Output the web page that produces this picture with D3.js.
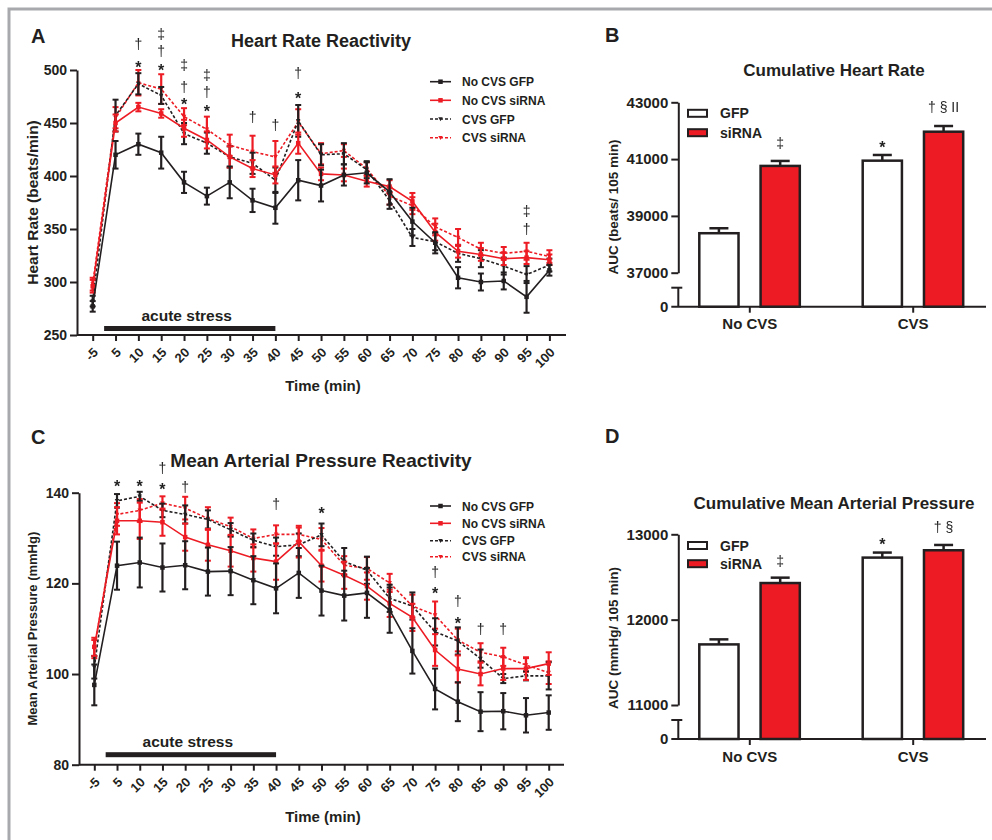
<!DOCTYPE html>
<html>
<head>
<meta charset="utf-8">
<script src="https://cdn.jsdelivr.net/npm/d3@7"></script>
<style>
  body { margin: 0; background: #fff; }
  svg text { font-family: "Liberation Sans", Arial, sans-serif; fill: #231f20; }
</style>
</head>
<body>
<svg id="fig" width="992" height="840"></svg>
<script>
// ---- data ----
const timeLabels = ["-5", "5", "10", "15", "20", "25", "30", "35", "40", "45", "50",
  "55", "60", "65", "70", "75", "80", "85", "90", "95", "100"];
const seriesNames = ["No CVS GFP", "No CVS siRNA", "CVS GFP", "CVS siRNA"];

// heart rate (beats/min), mean and SEM
const hrNoCvsGfp = [277, 420, 430, 422, 394, 381, 394, 377, 370, 396, 391, 401, 403, 385, 357, 337, 304, 300, 301, 286, 311];
const hrNoCvsGfpErr = [5, 13, 10, 15, 10, 8, 15, 11, 15, 19, 15, 10, 10, 12, 13, 10, 10, 8, 8, 15, 5];
const hrNoCvsSirna = [296, 450, 465, 459, 445, 434, 418, 407, 401, 431, 402, 401, 395, 390, 376, 347, 329, 326, 322, 323, 321];
const hrNoCvsSirnaErr = [6, 8, 4, 4, 8, 8, 10, 8, 8, 10, 6, 6, 5, 6, 8, 8, 6, 6, 6, 6, 5];
const hrCvsGfp = [282, 457, 487, 476, 440, 431, 418, 412, 396, 452, 420, 421, 406, 377, 342, 338, 327, 322, 315, 307, 316];
const hrCvsGfpErr = [5, 15, 10, 8, 10, 10, 10, 10, 12, 15, 10, 10, 8, 8, 8, 8, 8, 8, 8, 8, 6];
const hrCvsSirna = [298, 455, 488, 482, 456, 444, 429, 423, 418, 451, 421, 424, 407, 381, 372, 352, 342, 331, 327, 329, 324];
const hrCvsSirnaErr = [6, 10, 12, 14, 8, 12, 10, 15, 15, 12, 10, 6, 6, 8, 8, 8, 8, 6, 6, 8, 6];
const hrTicks = [250, 300, 350, 400, 450, 500];
// [time, symbol, height in beats/min]
const hrSig = [["10", "*", 505.7], ["10", "†", 523.6], ["15", "*", 503], ["15", "†", 517], ["15", "‡", 533],
  ["20", "*", 470.8], ["20", "†", 483], ["20", "‡", 503.8], ["25", "*", 464], ["25", "†", 478.3], ["25", "‡", 494.3],
  ["35", "†", 454.7], ["40", "†", 447], ["45", "*", 476.4], ["45", "†", 496], ["95", "†", 349], ["95", "‡", 366]];

// mean arterial pressure (mmHg)
const mapNoCvsGfp = [97.6, 123.9, 124.6, 123.5, 124, 122.6, 122.7, 120.7, 118.9, 122.3, 118.4, 117.3, 117.9, 114.1, 105.1, 96.7, 93.9, 91.7, 91.8, 90.9, 91.5];
const mapNoCvsGfpErr = [4.5, 5.3, 5.5, 5.3, 5.3, 5.3, 5.3, 5.3, 5.5, 5.5, 5.5, 5.5, 5.5, 5, 5, 4.5, 4.3, 4.3, 4, 3.8, 3.8];
const mapNoCvsSirna = [106, 133.8, 133.8, 133.5, 130.2, 128.5, 127.2, 125.6, 124.8, 129.2, 123.9, 121.8, 119.4, 115.6, 112.5, 105.3, 101.1, 100, 101.2, 101.2, 102.3];
const mapNoCvsSirnaErr = [2, 3, 4, 3, 3, 3.5, 3.5, 3, 4, 3.5, 3.5, 3, 3, 3, 3, 3.5, 3, 2.5, 2.5, 2.5, 2.5];
const mapCvsGfp = [101.5, 138.2, 139.2, 136.1, 135.2, 134.1, 131.8, 129.5, 128.1, 128.5, 130.7, 124.8, 122.9, 116.7, 115, 109.3, 107.3, 103.4, 99, 99.6, 99.6];
const mapCvsGfpErr = [2.5, 1.5, 1, 1.5, 2, 2, 1.5, 1.5, 2, 2.5, 2.5, 3, 3, 3, 3, 3, 3, 2, 1, 1, 3];
const mapCvsSirna = [105.5, 135.2, 136.1, 137.7, 136.6, 134.3, 132.5, 129.9, 130.8, 130.8, 129.7, 124, 123.3, 120.1, 115, 113, 107.5, 104.8, 103.8, 102, 100.3];
const mapCvsSirnaErr = [2, 2.5, 2.5, 1.5, 2.5, 2.5, 2, 2, 2, 1.5, 2.5, 2, 2.5, 2, 2.5, 3, 2.5, 2, 2, 1.5, 2.5];
const mapTicks = [80, 100, 120, 140];
const mapSig = [["5", "*", 142.1], ["10", "*", 142.1], ["15", "*", 141.5], ["15", "†", 145.2], ["20", "†", 141],
  ["40", "†", 137.3], ["50", "*", 136.2], ["75", "*", 118.5], ["75", "†", 122.3], ["80", "*", 112], ["80", "†", 116],
  ["85", "†", 109.7], ["90", "†", 109.7]];

// cumulative AUC bars
const aucGroups = ["No CVS", "CVS"];
const aucSeries = ["GFP", "siRNA"];
const hrAucGfp = [38390, 40945];
const hrAucGfpErr = [175, 200];
const hrAucSirna = [40760, 41965];
const hrAucSirnaErr = [175, 200];
const hrAucTicks = [37000, 39000, 41000, 43000];
// [group, series, symbol, height]
const hrAucSig = [["No CVS", "siRNA", "‡", 41532], ["CVS", "GFP", "*", 41532], ["CVS", "siRNA", "† § II", 42800]];
const mapAucGfp = [11710, 12727];
const mapAucGfpErr = [59, 59];
const mapAucSirna = [12429, 12813];
const mapAucSirnaErr = [63, 62];
const mapAucTicks = [11000, 12000, 13000];
const mapAucSig = [["No CVS", "siRNA", "‡", 12675], ["CVS", "GFP", "*", 12930], ["CVS", "siRNA", "† §", 13082]];

// ---- drawing ----
const INK = "#231f20";
const RED = "#ed1c24";
const seriesStyle = [
  { color: INK, dash: null, marker: "square" },
  { color: RED, dash: null, marker: "square" },
  { color: INK, dash: "3,2", marker: "tri" },
  { color: RED, dash: "3,2", marker: "tri" },
];

const svg = d3.select("#fig");

// desaturating filter so the thin symbol glyphs stay grey
svg.append("defs").append("filter")
  .attr("id", "grey").attr("x", "-50%").attr("y", "-50%").attr("width", "200%").attr("height", "200%")
  .append("feColorMatrix").attr("type", "saturate").attr("values", 0);

// grey frame of the figure
svg.append("rect")
  .attr("x", 9).attr("y", 9).attr("width", 1000).attr("height", 850)
  .attr("fill", "none").attr("stroke", "#a7a9ac").attr("stroke-width", 3);

function styleAxis(sel, fontSize) {
  sel.selectAll("path, line").attr("stroke", INK).attr("stroke-width", 2);
  sel.selectAll("text")
    .attr("font-size", fontSize).attr("font-weight", "bold")
    .attr("fill", INK).attr("font-family", '"Liberation Sans", Arial, sans-serif');
}

function marker(sel, kind, color, size) {
  if (kind === "square") {
    sel.append("rect").attr("x", -size / 2).attr("y", -size / 2)
      .attr("width", size).attr("height", size).attr("fill", color);
  } else {
    sel.append("path")
      .attr("d", `M${-size / 2},${-size / 2.5}L${size / 2},${-size / 2.5}L0,${size / 2}Z`)
      .attr("fill", color);
  }
}

// significance symbol: y is the visual centre of the glyph
function sigSymbol(g, x, y, sym) {
  const star = sym === "*";
  const size = star ? 16 : 14;
  const col = star ? INK : "#3a3a3c";
  g.append("text")
    .attr("x", x).attr("y", y + size * (star ? 0.58 : 0.3))
    .attr("text-anchor", "middle")
    .attr("font-size", size)
    .attr("font-weight", star ? "bold" : "normal")
    .attr("fill", col)
    .text(sym);
}

function linePanel(p) {
  const g = svg.append("g");
  const x = d3.scalePoint().domain(timeLabels).range(p.xRange);
  const y = d3.scaleLinear().domain(p.yDomain).range(p.yRange);
  const y0 = p.yRange[0];

  g.append("g")
    .attr("transform", `translate(${p.axisX},0)`)
    .call(d3.axisLeft(y).tickValues(p.yTicks).tickSize(7).tickSizeOuter(0).tickPadding(3))
    .call(styleAxis, 14);

  const xa = g.append("g")
    .attr("transform", `translate(0,${y0})`)
    .call(d3.axisBottom(x).tickSize(6).tickFormat(""));
  xa.select(".domain").remove();
  xa.call(styleAxis, 13);
  g.append("line")
    .attr("x1", p.axisX).attr("x2", p.axisEnd).attr("y1", y0).attr("y2", y0)
    .attr("stroke", INK).attr("stroke-width", 2);

  g.selectAll(".xlab").data(timeLabels).join("text")
    .attr("class", "xlab")
    .attr("transform", (d) => `translate(${x(d) + 3},${y0 + 15}) rotate(-45)`)
    .attr("text-anchor", "end").attr("dy", "0.35em")
    .attr("font-size", 13).attr("font-weight", "bold")
    .text((d) => d);

  // acute stress bar, from time 0 to 40 min
  const sx0 = (x("-5") + x("5")) / 2;
  g.append("rect")
    .attr("x", sx0).attr("y", y0 - p.stressGap - 5)
    .attr("width", x("40") - sx0).attr("height", 5).attr("fill", INK);
  g.append("text")
    .attr("x", (sx0 + x("40")) / 2 - 3).attr("y", y0 - p.stressGap - 10)
    .attr("text-anchor", "middle").attr("font-size", 15.5).attr("font-weight", "bold")
    .text("acute stress");

  g.append("text")
    .attr("x", 323).attr("y", p.timeY)
    .attr("text-anchor", "middle").attr("font-size", 15).attr("font-weight", "bold")
    .text("Time (min)");

  g.append("text")
    .attr("transform", `translate(${p.yLabelX},${(p.yRange[0] + p.yRange[1]) / 2}) rotate(-90)`)
    .attr("text-anchor", "middle").attr("font-size", p.yLabelSize).attr("font-weight", "bold")
    .text(p.yLabel);

  g.append("text")
    .attr("x", 321).attr("y", p.titleY)
    .attr("text-anchor", "middle").attr("font-size", p.titleSize).attr("font-weight", "bold")
    .text(p.title);

  g.append("text")
    .attr("x", 31).attr("y", p.letterY)
    .attr("font-size", 20).attr("font-weight", "bold")
    .text(p.letter);

  // series, drawn back to front
  const line = d3.line().x((d, i) => x(timeLabels[i])).y((d) => y(d));
  [3, 2, 1, 0].forEach((k) => {
    const s = p.series[k];
    const st = seriesStyle[k];
    const sg = g.append("g");
    sg.append("path")
      .attr("d", line(s.values))
      .attr("fill", "none").attr("stroke", st.color)
      .attr("stroke-width", 1.6)
      .attr("stroke-dasharray", st.dash);
    s.values.forEach((v, i) => {
      const cx = x(timeLabels[i]);
      const lo = y(v - s.err[i]);
      const hi = y(v + s.err[i]);
      sg.append("line").attr("x1", cx).attr("x2", cx).attr("y1", lo).attr("y2", hi)
        .attr("stroke", st.color).attr("stroke-width", 2.2);
      [lo, hi].forEach((yy) => {
        sg.append("line").attr("x1", cx - 3).attr("x2", cx + 3).attr("y1", yy).attr("y2", yy)
          .attr("stroke", st.color).attr("stroke-width", 2);
      });
      sg.append("g").attr("transform", `translate(${cx},${y(v)})`)
        .call(marker, st.marker, st.color, 4.5);
    });
  });

  const sigG = g.append("g").attr("filter", "url(#grey)");
  p.sig.forEach(([t, sym, v]) => sigSymbol(sigG, x(t), y(v), sym));

  // legend
  seriesNames.forEach((name, k) => {
    const st = seriesStyle[k];
    const ly = p.legendY[k];
    g.append("line").attr("x1", 430).attr("x2", 451).attr("y1", ly).attr("y2", ly)
      .attr("stroke", st.color).attr("stroke-width", 1.6).attr("stroke-dasharray", st.dash);
    g.append("g").attr("transform", `translate(440.5,${ly})`).call(marker, st.marker, st.color, 4.5);
    g.append("text").attr("x", 462).attr("y", ly + 4.5)
      .attr("font-size", 12).attr("font-weight", "bold").text(name);
  });
}

function barPanel(p) {
  const g = svg.append("g");
  const xg = d3.scalePoint().domain(aucGroups).range([749.3, 912.7]);
  const xs = d3.scaleBand().domain(aucSeries).range([-50, 50.5]).paddingInner(0.36);
  const y = d3.scaleLinear().domain(p.yDomain).range(p.yRange);
  const base = p.baseY;

  g.append("g")
    .attr("transform", `translate(${p.axisX},0)`)
    .call(d3.axisLeft(y).tickValues(p.yTicks).tickFormat(d3.format("d"))
      .tickSize(7).tickSizeOuter(0).tickPadding(3))
    .call(styleAxis, 15);
  // broken axis: short lower piece with the zero label
  g.append("line").attr("x1", p.axisX).attr("x2", p.axisX).attr("y1", p.capY).attr("y2", base)
    .attr("stroke", INK).attr("stroke-width", 2);
  g.append("line").attr("x1", p.axisX - 7).attr("x2", p.axisX + 4).attr("y1", p.capY).attr("y2", p.capY)
    .attr("stroke", INK).attr("stroke-width", 2);
  g.append("text").attr("x", p.axisX - 10).attr("y", base).attr("dy", "0.32em")
    .attr("text-anchor", "end").attr("font-size", 15).attr("font-weight", "bold").text("0");

  const xa = g.append("g")
    .attr("transform", `translate(0,${base})`)
    .call(d3.axisBottom(xg).tickSize(6).tickPadding(6));
  xa.select(".domain").remove();
  xa.call(styleAxis, 15);
  xa.selectAll("text").attr("dy", "0.71em");
  g.append("line").attr("x1", p.axisX - 7).attr("x2", 986).attr("y1", base).attr("y2", base)
    .attr("stroke", INK).attr("stroke-width", 2);

  const rows = [
    { s: "GFP", values: p.gfp, err: p.gfpErr, fill: "#fff" },
    { s: "siRNA", values: p.sirna, err: p.sirnaErr, fill: RED },
  ];
  rows.forEach((r) => {
    aucGroups.forEach((grp, i) => {
      const bx = xg(grp) + xs(r.s);
      const cx = bx + xs.bandwidth() / 2;
      const top = y(r.values[i]);
      const et = y(r.values[i] + r.err[i]);
      g.append("line").attr("x1", cx).attr("x2", cx).attr("y1", top).attr("y2", et)
        .attr("stroke", INK).attr("stroke-width", 2.5);
      g.append("line").attr("x1", cx - 9.5).attr("x2", cx + 9.5).attr("y1", et).attr("y2", et)
        .attr("stroke", INK).attr("stroke-width", 2.5);
      g.append("rect").attr("x", bx).attr("y", top)
        .attr("width", xs.bandwidth()).attr("height", base - top)
        .attr("fill", r.fill).attr("stroke", INK).attr("stroke-width", 2.5);
    });
  });

  const sigG = g.append("g").attr("filter", "url(#grey)");
  p.sig.forEach(([grp, s, sym, v]) =>
    sigSymbol(sigG, xg(grp) + xs(s) + xs.bandwidth() / 2, y(v), sym));

  // legend
  rows.forEach((r, k) => {
    const ly = p.legendY[k];
    g.append("rect").attr("x", 688).attr("y", ly - 3.5).attr("width", 19).attr("height", 7)
      .attr("fill", r.fill).attr("stroke", INK).attr("stroke-width", 2);
    g.append("text").attr("x", 720).attr("y", ly + 5)
      .attr("font-size", 14).attr("font-weight", "bold").text(r.s);
  });

  g.append("text")
    .attr("transform", `translate(618,${p.yLabelY}) rotate(-90)`)
    .attr("text-anchor", "middle").attr("font-size", 13.5).attr("font-weight", "bold")
    .text(p.yLabel);
  g.append("text")
    .attr("x", 834).attr("y", p.titleY)
    .attr("text-anchor", "middle").attr("font-size", 17).attr("font-weight", "bold")
    .text(p.title);
  g.append("text")
    .attr("x", 605).attr("y", p.letterY)
    .attr("font-size", 20).attr("font-weight", "bold")
    .text(p.letter);
}

linePanel({
  letter: "A", letterY: 43,
  title: "Heart Rate Reactivity", titleY: 47, titleSize: 18,
  xRange: [92.7, 549.4], axisX: 77, axisEnd: 566,
  yDomain: [250, 500], yRange: [335, 70], yTicks: hrTicks,
  yLabel: "Heart Rate (beats/min)", yLabelX: 38, yLabelSize: 15.5,
  stressGap: 4, timeY: 391,
  legendY: [81.7, 100.3, 119, 137.7],
  sig: hrSig,
  series: [
    { values: hrNoCvsGfp, err: hrNoCvsGfpErr },
    { values: hrNoCvsSirna, err: hrNoCvsSirnaErr },
    { values: hrCvsGfp, err: hrCvsGfpErr },
    { values: hrCvsSirna, err: hrCvsSirnaErr },
  ],
});

linePanel({
  letter: "C", letterY: 444,
  title: "Mean Arterial Pressure Reactivity", titleY: 467, titleSize: 19,
  xRange: [94.3, 548.7], axisX: 79, axisEnd: 564,
  yDomain: [80, 140], yRange: [764.7, 492.7], yTicks: mapTicks,
  yLabel: "Mean Arterial Pressure (mmHg)", yLabelX: 37, yLabelSize: 13,
  stressGap: 7.5, timeY: 822,
  legendY: [506, 523.3, 540.7, 556.7],
  sig: mapSig,
  series: [
    { values: mapNoCvsGfp, err: mapNoCvsGfpErr },
    { values: mapNoCvsSirna, err: mapNoCvsSirnaErr },
    { values: mapCvsGfp, err: mapCvsGfpErr },
    { values: mapCvsSirna, err: mapCvsSirnaErr },
  ],
});

barPanel({
  letter: "B", letterY: 42,
  title: "Cumulative Heart Rate", titleY: 76,
  yDomain: [37000, 43000], yRange: [272.7, 102.3], yTicks: hrAucTicks,
  axisX: 678.3, baseY: 306.7, capY: 287.7,
  yLabel: "AUC (beats/ 105 min)", yLabelY: 207,
  legendY: [113.3, 132.7],
  gfp: hrAucGfp, gfpErr: hrAucGfpErr, sirna: hrAucSirna, sirnaErr: hrAucSirnaErr,
  sig: hrAucSig,
});

barPanel({
  letter: "D", letterY: 443,
  title: "Cumulative Mean Arterial Pressure", titleY: 508.5,
  yDomain: [11000, 13000], yRange: [705, 534.3], yTicks: mapAucTicks,
  axisX: 678.3, baseY: 739, capY: 720,
  yLabel: "AUC (mmHg/ 105 min)", yLabelY: 638,
  legendY: [545.5, 563.7],
  gfp: mapAucGfp, gfpErr: mapAucGfpErr, sirna: mapAucSirna, sirnaErr: mapAucSirnaErr,
  sig: mapAucSig,
});
</script>
</body>
</html>
